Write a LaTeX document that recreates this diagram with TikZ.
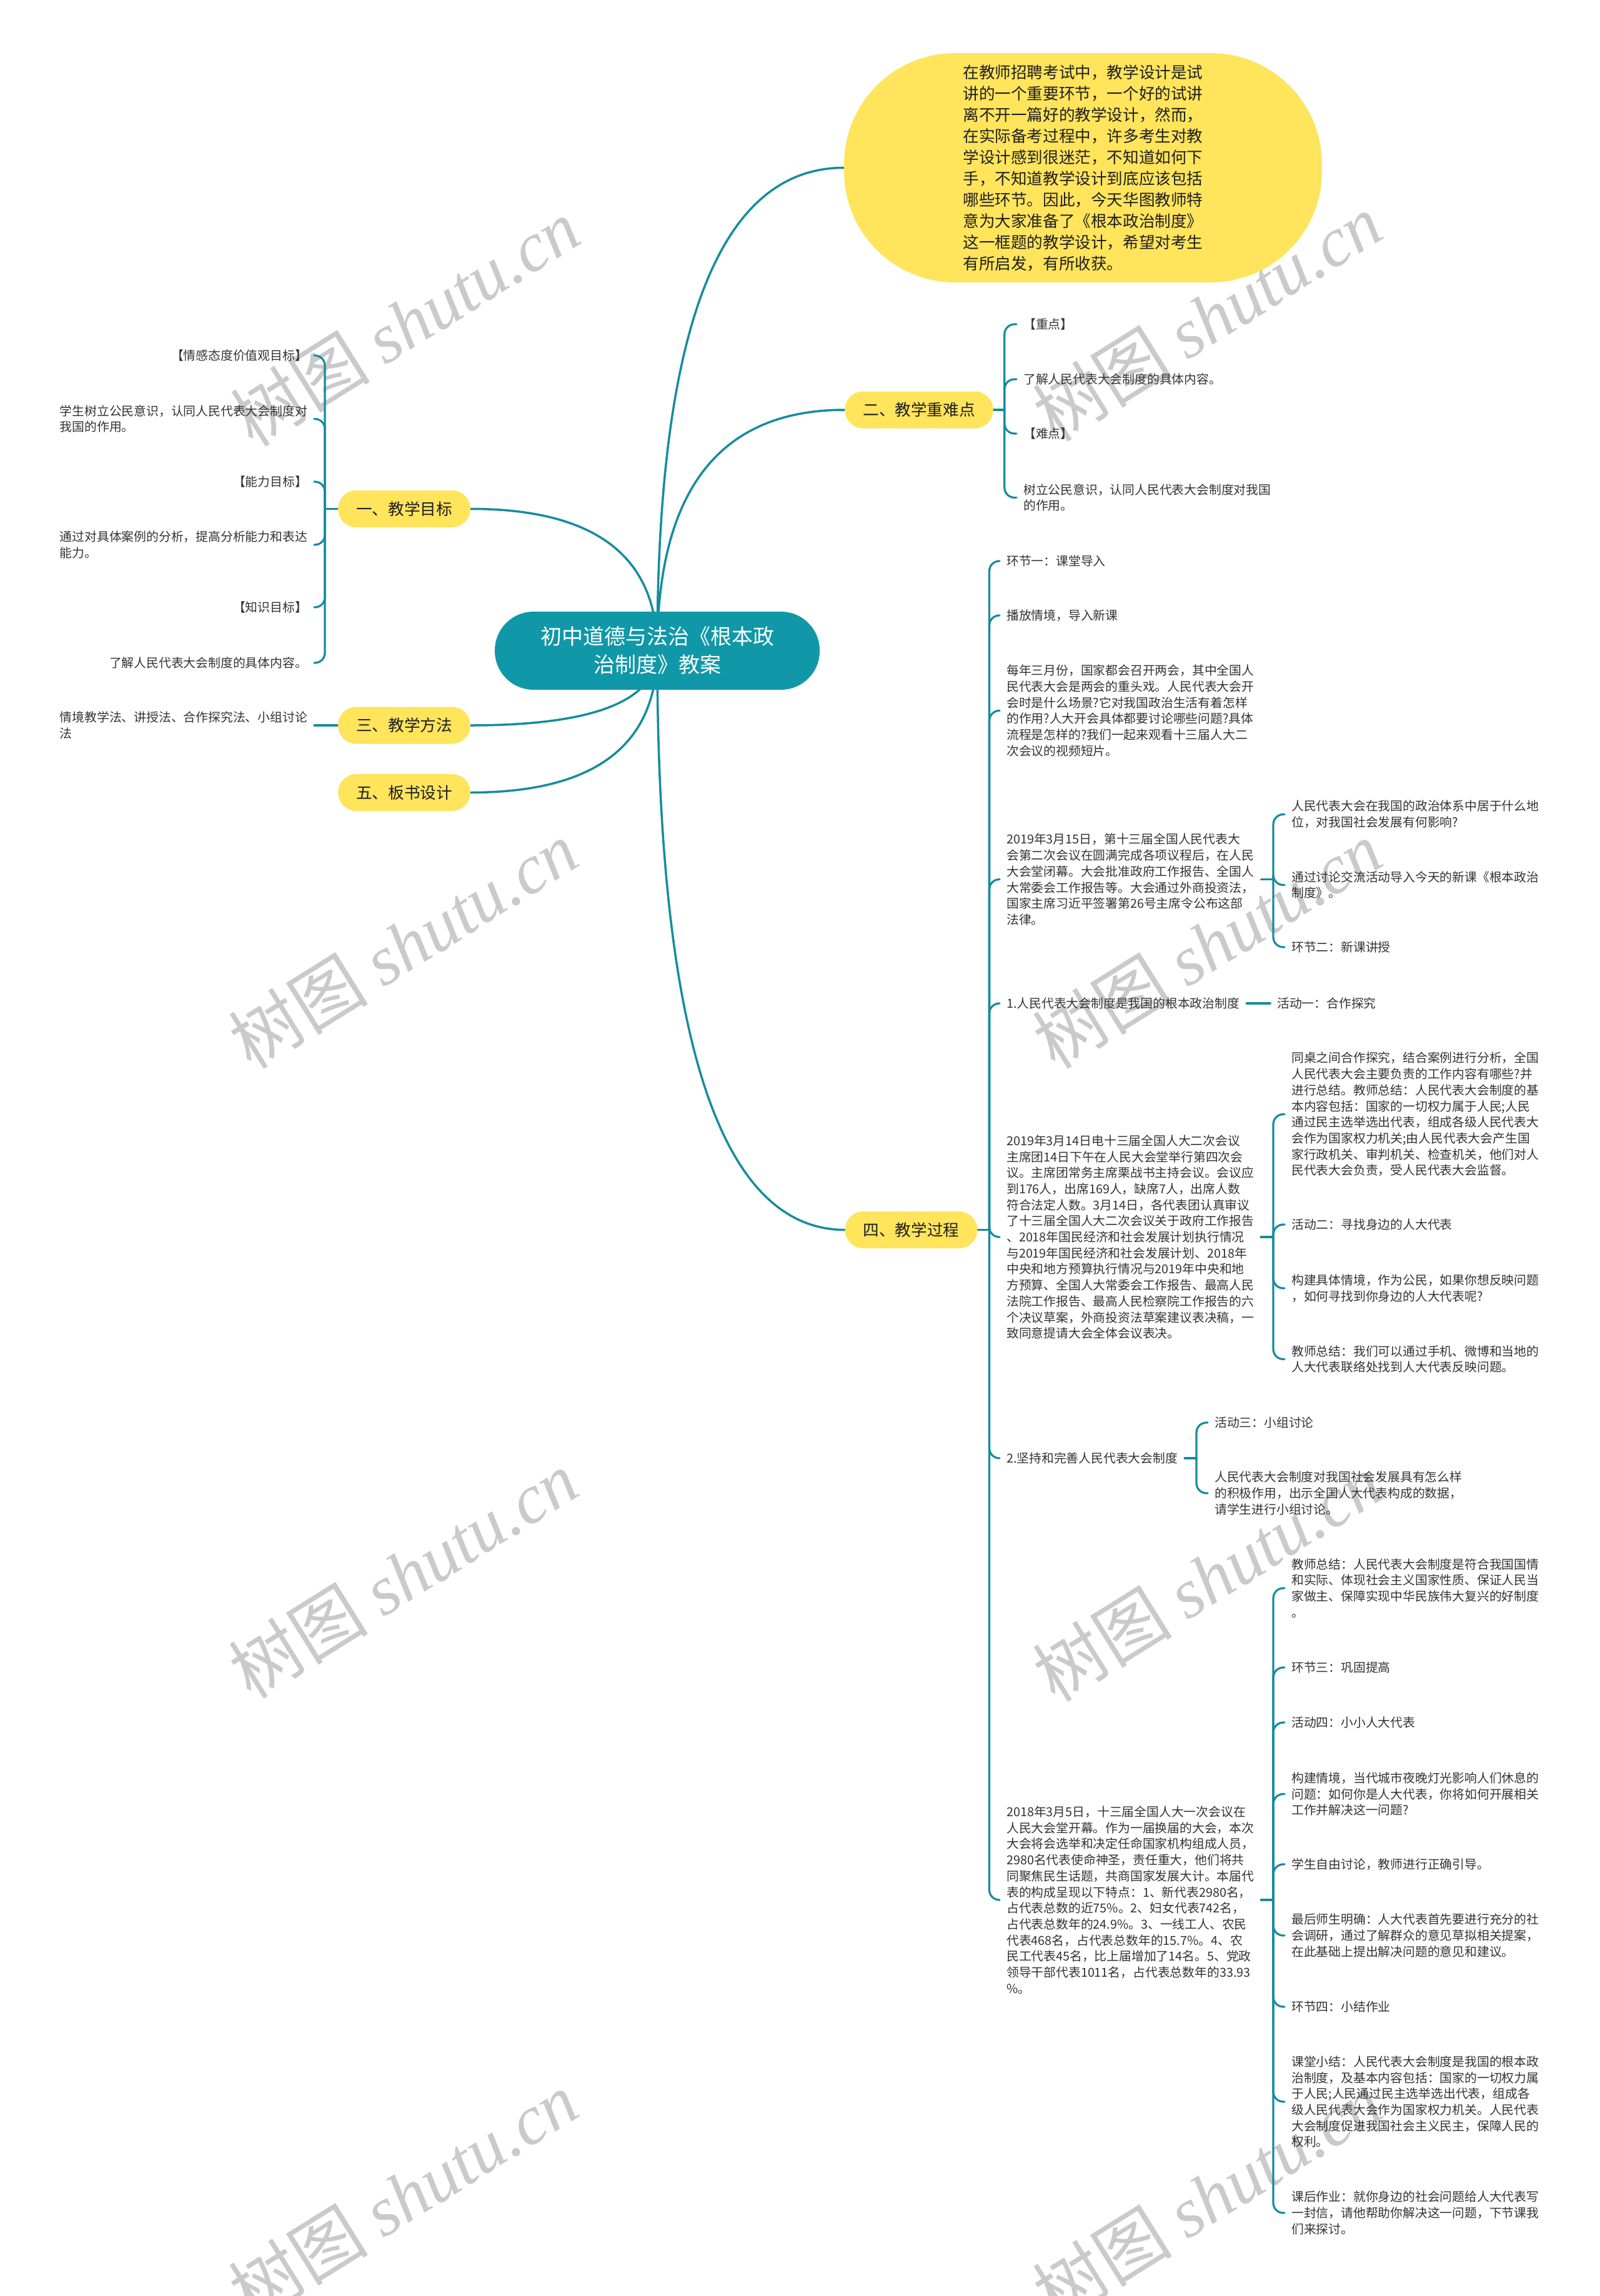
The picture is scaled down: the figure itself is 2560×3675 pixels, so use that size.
\documentclass[tikz,border=0pt]{standalone}
\usepackage{fontspec}
\setmainfont{Noto Sans CJK SC}
\newfontfamily\wmlatin{Liberation Serif}
\usetikzlibrary{calc}
\definecolor{tealr}{RGB}{16,152,168}
\definecolor{tealc}{RGB}{22,140,156}
\definecolor{yel}{RGB}{255,228,92}
\definecolor{txtc}{RGB}{51,51,51}
\definecolor{wmc}{RGB}{202,202,202}
\pgfdeclarelayer{wm}
\pgfdeclarelayer{bg}
\pgfsetlayers{wm,bg,main}
\newcommand{\fsmall}{\fontsize{19.8}{25.7}\selectfont}
\newcommand{\fmid}{\fontsize{25.6}{34}\selectfont}
\newcommand{\fbig}{\fontsize{34}{45}\selectfont}
\newcommand{\fwm}{\fontsize{112}{120}\selectfont}
\begin{document}
\begin{tikzpicture}[x=1pt,y=-1pt,
  conn/.style={draw=tealc, line width=3.5pt, line cap=round},
  spine/.style={draw=tealc, line width=3.2pt, line cap=round, rounded corners=16pt},
  txt/.style={font=\fsmall, text=txtc, inner xsep=11pt, inner ysep=3pt, align=left},
  branch/.style={fill=yel, rounded corners=29pt, minimum height=59pt, inner xsep=29pt, inner ysep=0pt, font=\fmid, text=black!88},
  rootn/.style={fill=tealr, rounded corners=62pt, minimum width=520pt, minimum height=125pt, font=\fbig, text=white, align=center},
  bubble/.style={fill=yel, rounded corners=178pt, minimum width=765pt, minimum height=367pt, font=\fmid, text=black!88, align=left},
  wmk/.style={text=wmc, rotate=32, font=\fwm, inner sep=0pt}
]
\useasboundingbox (0,0) rectangle (2560,3675);

% ---------- root and branches ----------
\node[rootn] (root) at (1052,1041.5) {初中道德与法治《根本政\\治制度》教案};
\node[bubble] (intro) at (1733.5,268.5) {在教师招聘考试中，教学设计是试\\讲的一个重要环节，一个好的试讲\\离不开一篇好的教学设计，然而，\\在实际备考过程中，许多考生对教\\学设计感到很迷茫，不知道如何下\\手，不知道教学设计到底应该包括\\哪些环节。因此，今天华图教师特\\意为大家准备了《根本政治制度》\\这一框题的教学设计，希望对考生\\有所启发，有所收获。};
\node[branch] (b1) at (647,814.5) {一、教学目标};
\node[branch] (b2) at (1471,656) {二、教学重难点};
\node[branch] (b3) at (647,1161) {三、教学方法};
\node[branch] (b5) at (647,1268.5) {五、板书设计};
\node[branch] (b4) at (1458.5,1968.5) {四、教学过程};

% ---------- 一 children ----------
\node[txt, anchor=east] (a1) at (503,569) {【情感态度价值观目标】};
\node[txt, anchor=east] (a2) at (503,670.5) {学生树立公民意识，认同人民代表大会制度对\\我国的作用。};
\node[txt, anchor=east] (a3) at (503,771) {【能力目标】};
\node[txt, anchor=east] (a4) at (503,872) {通过对具体案例的分析，提高分析能力和表达\\能力。};
\node[txt, anchor=east] (a5) at (503,972) {【知识目标】};
\node[txt, anchor=east] (a6) at (503,1061) {了解人民代表大会制度的具体内容。};

% ---------- 三 child ----------
\node[txt, anchor=east] (t1) at (503,1161) {情境教学法、讲授法、合作探究法、小组讨论\\法};

% ---------- 二 children ----------
\node[txt, anchor=west] (e21) at (1627,519) {【重点】};
\node[txt, anchor=west] (e22) at (1627,607) {了解人民代表大会制度的具体内容。};
\node[txt, anchor=west] (e23) at (1627,694) {【难点】};
\node[txt, anchor=west] (e24) at (1627,796.5) {树立公民意识，认同人民代表大会制度对我国\\的作用。};

% ---------- 四 children ----------
\node[txt, anchor=west] (c1) at (1600,898) {环节一：课堂导入};
\node[txt, anchor=west] (c2) at (1600,985) {播放情境，导入新课};
\node[txt, anchor=west] (c3) at (1600,1137.5) {每年三月份，国家都会召开两会，其中全国人\\民代表大会是两会的重头戏。人民代表大会开\\会时是什么场景?它对我国政治生活有着怎样\\的作用?人大开会具体都要讨论哪些问题?具体\\流程是怎样的?我们一起来观看十三届人大二\\次会议的视频短片。};
\node[txt, anchor=west] (c4) at (1600,1407.5) {2019年3月15日，第十三届全国人民代表大\\会第二次会议在圆满完成各项议程后，在人民\\大会堂闭幕。大会批准政府工作报告、全国人\\大常委会工作报告等。大会通过外商投资法，\\国家主席习近平签署第26号主席令公布这部\\法律。};
\node[txt, anchor=west] (c5) at (1600,1606) {1.人民代表大会制度是我国的根本政治制度};
\node[txt, anchor=west] (c6) at (1600,1980) {2019年3月14日电十三届全国人大二次会议\\主席团14日下午在人民大会堂举行第四次会\\议。主席团常务主席栗战书主持会议。会议应\\到176人，出席169人，缺席7人，出席人数\\符合法定人数。3月14日，各代表团认真审议\\了十三届全国人大二次会议关于政府工作报告\\、2018年国民经济和社会发展计划执行情况\\与2019年国民经济和社会发展计划、2018年\\中央和地方预算执行情况与2019年中央和地\\方预算、全国人大常委会工作报告、最高人民\\法院工作报告、最高人民检察院工作报告的六\\个决议草案，外商投资法草案建议表决稿，一\\致同意提请大会全体会议表决。};
\node[txt, anchor=west] (c7) at (1600,2334) {2.坚持和完善人民代表大会制度};
\node[txt, anchor=west] (c8) at (1600,3041) {2018年3月5日，十三届全国人大一次会议在\\人民大会堂开幕。作为一届换届的大会，本次\\大会将会选举和决定任命国家机构组成人员，\\2980名代表使命神圣，责任重大，他们将共\\同聚焦民生话题，共商国家发展大计。本届代\\表的构成呈现以下特点：1、新代表2980名，\\占代表总数的近75\%。2、妇女代表742名，\\占代表总数年的24.9\%。3、一线工人、农民\\代表468名，占代表总数年的15.7\%。4、农\\民工代表45名，比上届增加了14名。5、党政\\领导干部代表1011名，占代表总数年的33.93\\\%。};

% c4 children
\node[txt, anchor=west] (d1) at (2056,1303.5) {人民代表大会在我国的政治体系中居于什么地\\位，对我国社会发展有何影响?};
\node[txt, anchor=west] (d2) at (2056,1416.5) {通过讨论交流活动导入今天的新课《根本政治\\制度》。};
\node[txt, anchor=west] (d3) at (2056,1516) {环节二：新课讲授};

% c5 child
\node[txt, anchor=west] (g0) at (2033,1606) {活动一：合作探究};

% c6 children
\node[txt, anchor=west] (f1) at (2056,1783.5) {同桌之间合作探究，结合案例进行分析，全国\\人民代表大会主要负责的工作内容有哪些?并\\进行总结。教师总结：人民代表大会制度的基\\本内容包括：国家的一切权力属于人民;人民\\通过民主选举选出代表，组成各级人民代表大\\会作为国家权力机关;由人民代表大会产生国\\家行政机关、审判机关、检查机关，他们对人\\民代表大会负责，受人民代表大会监督。};
\node[txt, anchor=west] (f2) at (2056,1960) {活动二：寻找身边的人大代表};
\node[txt, anchor=west] (f3) at (2056,2062) {构建具体情境，作为公民，如果你想反映问题\\，如何寻找到你身边的人大代表呢?};
\node[txt, anchor=west] (f4) at (2056,2175.5) {教师总结：我们可以通过手机、微博和当地的\\人大代表联络处找到人大代表反映问题。};

% c7 children
\node[txt, anchor=west] (g1) at (1933,2277) {活动三：小组讨论};
\node[txt, anchor=west] (g2) at (1933,2390) {人民代表大会制度对我国社会发展具有怎么样\\的积极作用，出示全国人大代表构成的数据，\\请学生进行小组讨论。};

% c8 children
\node[txt, anchor=west] (h1) at (2056,2542) {教师总结：人民代表大会制度是符合我国国情\\和实际、体现社会主义国家性质、保证人民当\\家做主、保障实现中华民族伟大复兴的好制度\\。};
\node[txt, anchor=west] (h2) at (2056,2669) {环节三：巩固提高};
\node[txt, anchor=west] (h3) at (2056,2757) {活动四：小小人大代表};
\node[txt, anchor=west] (h4) at (2056,2871.5) {构建情境，当代城市夜晚灯光影响人们休息的\\问题：如何你是人大代表，你将如何开展相关\\工作并解决这一问题?};
\node[txt, anchor=west] (h5) at (2056,2984) {学生自由讨论，教师进行正确引导。};
\node[txt, anchor=west] (h6) at (2056,3098) {最后师生明确：人大代表首先要进行充分的社\\会调研，通过了解群众的意见草拟相关提案，\\在此基础上提出解决问题的意见和建议。};
\node[txt, anchor=west] (h7) at (2056,3212) {环节四：小结作业};
\node[txt, anchor=west] (h8) at (2056,3364) {课堂小结：人民代表大会制度是我国的根本政\\治制度，及基本内容包括：国家的一切权力属\\于人民;人民通过民主选举选出代表，组成各\\级人民代表大会作为国家权力机关。人民代表\\大会制度促进我国社会主义民主，保障人民的\\权利。};
\node[txt, anchor=west] (h9) at (2056,3542) {课后作业：就你身边的社会问题给人大代表写\\一封信，请他帮助你解决这一问题，下节课我\\们来探讨。};

% ---------- connectors ----------
\begin{pgfonlayer}{bg}
\foreach \n/\a in {b1/east,b2/west,intro/west,b3/east,b5/east,b4/west} {
  \coordinate (q-\n) at (root.center |- \n.\a);
  \draw[conn] (root.center) .. controls ($(root.center)!0.667!(q-\n)$) and ($(\n.\a)!0.667!(q-\n)$) .. (\n.\a);
}
% 一
\path (b1.west) ++(-21,0) coordinate (j1);
\draw[conn] (b1.west) -- (j1);
\foreach \c in {a1,a2,a3,a4,a5,a6} \draw[spine] (j1) |- (\c.east);
% 三
\draw[conn] (b3.west) -- (t1.east);
% 二
\path (b2.east) ++(18,0) coordinate (j2);
\draw[conn] (b2.east) -- (j2);
\foreach \c in {e21,e22,e23,e24} \draw[spine] (j2) |- (\c.west);
% 四
\path (b4.east) ++(19,0) coordinate (j4);
\draw[conn] (b4.east) -- (j4);
\foreach \c in {c1,c2,c3,c4,c5,c6,c7,c8} \draw[spine] (j4) |- (\c.west);
% c4
\coordinate (jc4) at (2038,1407.5);
\draw[conn] (c4.east) -- (jc4);
\foreach \c in {d1,d2,d3} \draw[spine] (jc4) |- (\c.west);
% c5
\draw[conn] (c5.east) -- (g0.west);
% c6
\coordinate (jc6) at (2038,1980);
\draw[conn] (c6.east) -- (jc6);
\foreach \c in {f1,f2,f3,f4} \draw[spine] (jc6) |- (\c.west);
% c7
\coordinate (jc7) at (1915,2334);
\draw[conn] (c7.east) -- (jc7);
\foreach \c in {g1,g2} \draw[spine] (jc7) |- (\c.west);
% c8
\coordinate (jc8) at (2038,3041);
\draw[conn] (c8.east) -- (jc8);
\foreach \c in {h1,h2,h3,h4,h5,h6,h7,h8,h9} \draw[spine] (jc8) |- (\c.west);
\end{pgfonlayer}

% ---------- watermarks ----------
\begin{pgfonlayer}{wm}
\fill[white] (0,0) rectangle (2560,3675);
\node[wmk] (wm1) at (648,516) {树图 {\wmlatin\itshape shutu.cn}};
\node[wmk] (wm2) at (1932,508) {树图 {\wmlatin\itshape shutu.cn}};
\node[wmk] (wm3) at (645,1512) {树图 {\wmlatin\itshape shutu.cn}};
\node[wmk] (wm4) at (1932,1512) {树图 {\wmlatin\itshape shutu.cn}};
\node[wmk] (wm5) at (645,2520) {树图 {\wmlatin\itshape shutu.cn}};
\node[wmk] (wm6) at (1932,2525) {树图 {\wmlatin\itshape shutu.cn}};
\node[wmk] (wm7) at (645,3514) {树图 {\wmlatin\itshape shutu.cn}};
\node[wmk] (wm8) at (1932,3516) {树图 {\wmlatin\itshape shutu.cn}};
\end{pgfonlayer}
\end{tikzpicture}
\end{document}
